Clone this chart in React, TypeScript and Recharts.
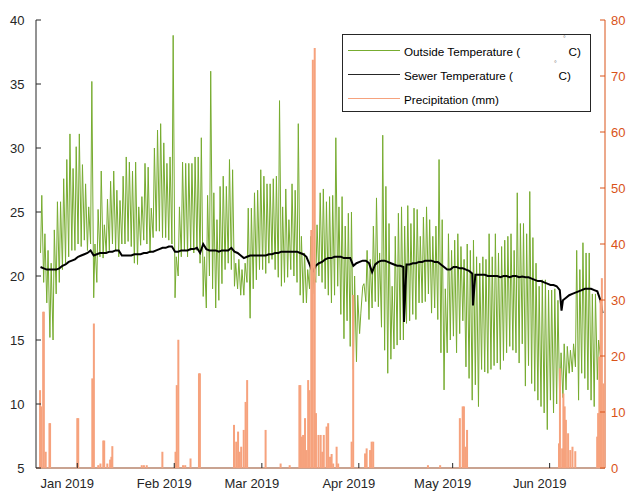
import React from 'react';
import { ComposedChart, Line, Scatter, XAxis, YAxis } from 'recharts';

// Day index: 0 = 1 Jan 2019. Data start 20 Dec 2018 (day -12).
const START_DAY = -12;

// Outside temperature, daily maxima / minima (°C)
const decMax = [26.3, 23.3, 22.0, 21.0, 23.6, 25.8, 25.8, 27.6, 29.1, 31.1, 28.4, 30.1];
const decMin = [21.8, 19.5, 17.9, 15.2, 15.0, 18.6, 19.5, 20.5, 21.0, 21.5, 22.0, 22.0];
const janMax = [31.1, 28.7, 27.2, 25.4, 35.2, 22.5, 25.2, 28.2, 24.0, 26.0, 27.4, 28.2, 26.7, 25.9, 27.8, 29.3, 28.9, 28.2, 28.9, 25.4, 26.2, 28.8, 28.5, 25.3, 30.0, 31.4, 31.9, 30.4, 28.8, 29.3, 38.8];
const janMin = [22.5, 22.3, 22.8, 22.0, 22.5, 18.3, 19.5, 21.5, 21.4, 21.8, 22.0, 22.5, 22.0, 21.5, 22.5, 22.5, 22.7, 22.3, 21.0, 20.9, 22.4, 22.8, 22.5, 21.8, 23.0, 23.5, 23.5, 23.0, 23.0, 22.8, 22.5];
const febMax = [21.5, 25.4, 28.9, 28.8, 28.8, 28.8, 29.3, 29.3, 30.8, 21.5, 26.3, 36.0, 26.5, 24.4, 27.0, 27.8, 27.0, 29.1, 28.3, 21.0, 21.3, 20.5, 21.0, 25.3, 25.3, 26.5, 26.7, 28.3];
const febMin = [18.3, 20.0, 21.5, 22.0, 21.5, 22.0, 21.8, 22.0, 21.0, 18.4, 17.5, 20.0, 19.0, 17.5, 18.1, 19.4, 20.5, 21.0, 20.5, 19.2, 19.0, 18.5, 18.5, 19.5, 16.7, 19.0, 19.7, 20.5];
const marMax = [27.8, 27.2, 27.2, 27.6, 27.8, 33.7, 25.4, 26.8, 24.4, 27.2, 26.7, 31.9, 23.1, 21.8, 20.5, 23.1, 20.2, 24.0, 26.5, 26.8, 25.8, 26.2, 26.3, 30.8, 25.4, 26.2, 23.9, 24.9, 25.0, 20.0, 18.5];
const marMin = [20.5, 20.2, 21.0, 21.3, 20.5, 19.9, 19.2, 19.5, 19.9, 20.5, 20.0, 19.5, 18.5, 17.9, 17.9, 19.0, 18.6, 19.5, 20.0, 19.5, 19.0, 18.5, 17.9, 18.5, 19.2, 17.0, 15.1, 16.5, 14.5, 12.7, 13.3];
const aprMax = [17.1, 19.4, 22.0, 21.3, 23.9, 26.1, 21.8, 31.0, 27.0, 24.1, 19.2, 23.1, 24.9, 25.4, 23.9, 25.5, 24.1, 25.3, 25.2, 23.1, 24.6, 25.4, 24.4, 23.1, 23.9, 29.1, 24.4, 19.0, 23.3, 22.0];
const aprMin = [15.5, 19.2, 18.0, 16.6, 17.5, 18.0, 17.6, 16.0, 14.2, 12.4, 13.5, 14.3, 14.6, 15.0, 15.0, 16.3, 16.5, 17.0, 16.6, 17.9, 17.9, 18.0, 18.6, 17.1, 17.5, 16.6, 14.0, 11.1, 14.0, 15.0];
const mayMax = [22.8, 23.3, 22.3, 21.3, 22.5, 22.0, 22.8, 21.5, 21.0, 21.5, 21.3, 23.3, 21.5, 23.3, 21.8, 22.3, 22.8, 23.1, 23.3, 22.0, 26.5, 24.1, 24.1, 23.3, 26.6, 23.0, 21.0, 19.2, 19.7, 19.7, 18.9];
const mayMin = [15.3, 14.0, 15.5, 16.5, 12.9, 12.0, 10.3, 11.5, 9.8, 12.7, 12.5, 12.4, 12.7, 13.0, 13.2, 12.7, 13.4, 14.0, 14.5, 14.2, 14.0, 13.2, 14.7, 11.4, 13.0, 11.6, 11.0, 10.3, 9.8, 9.3, 8.0];
const junMax = [18.9, 19.0, 18.1, 14.0, 14.7, 14.5, 14.2, 14.7, 22.0, 20.5, 22.6, 21.8, 21.8, 18.6, 18.6, 15.0, 15.5];
const junMin = [10.3, 9.3, 10.0, 9.8, 10.5, 11.1, 12.4, 12.5, 12.9, 10.3, 12.4, 12.0, 11.1, 10.3, 9.8, 11.9, 13.7];

// Sewer temperature, daily (°C)
const decSewer = [20.7, 20.6, 20.5, 20.5, 20.5, 20.5, 20.6, 20.8, 20.9, 21.1, 21.2, 21.3];
const janSewer = [21.5, 21.6, 21.7, 21.8, 22.0, 21.6, 21.7, 21.8, 21.8, 21.8, 21.9, 21.9, 22.0, 22.0, 21.6, 21.6, 21.6, 21.6, 21.7, 21.7, 21.7, 21.8, 21.8, 21.9, 21.9, 22.0, 22.1, 22.2, 22.2, 22.3, 22.3];
const febSewer = [21.9, 21.9, 22.0, 22.0, 22.0, 22.1, 22.1, 22.2, 21.8, 22.5, 22.1, 22.0, 22.0, 22.0, 21.9, 22.0, 22.0, 22.0, 22.2, 21.9, 21.8, 21.6, 21.4, 21.5, 21.6, 21.6, 21.6, 21.6];
const marSewer = [21.6, 21.6, 21.7, 21.7, 21.8, 21.8, 21.9, 21.9, 21.9, 21.9, 21.9, 21.9, 21.8, 21.7, 21.5, 20.9, 20.3, 20.8, 21.0, 21.1, 21.3, 21.4, 21.4, 21.5, 21.5, 21.5, 21.4, 21.4, 21.4, 20.8, 21.0];
const aprSewer = [21.1, 21.2, 21.2, 21.0, 20.3, 20.9, 21.1, 21.2, 21.2, 21.1, 21.0, 20.9, 20.8, 20.8, 20.7, 20.9, 20.9, 21.0, 21.0, 21.1, 21.1, 21.2, 21.2, 21.2, 21.1, 21.1, 20.9, 20.7, 20.5, 20.5];
const maySewer = [20.7, 20.7, 20.6, 20.6, 20.5, 20.4, 20.2, 20.1, 20.1, 20.1, 20.1, 20.0, 20.0, 20.0, 20.0, 19.9, 20.0, 20.0, 19.9, 20.0, 20.0, 19.9, 19.95, 19.9, 19.9, 19.8, 19.7, 19.6, 19.6, 19.5, 19.4];
const junSewer = [19.3, 19.3, 19.2, 18.9, 18.1, 18.3, 18.5, 18.6, 18.7, 18.8, 18.9, 19.0, 19.0, 19.0, 18.9, 18.8, 18.1];
// Short sewer dips (day, °C)
const sewerDipDay = [104.45, 126.5, 154.8, 167.9];
const sewerDipVal = [16.4, 17.7, 17.3, 17.1];

// Precipitation events (day, mm)
const precipDay = [-11.9, -11.6, -10.9, -10.7, -10.1, -8.9, -8.7, 0.0, 0.3, 4.8, 5.3, 6.7, 7.4, 8.3, 8.6, 9.6, 10.5, 10.9, 11.2, 20.6, 21.3, 22.2, 27.2, 31.4, 31.8, 32.3, 33.8, 34.5, 36.2, 38.9, 39.2, 50.1, 50.8, 51.4, 51.9, 52.4, 53.2, 53.8, 54.3, 60.2, 65.0, 67.9, 71.0, 71.3, 71.8, 72.2, 72.8, 73.3, 73.8, 74.2, 74.8, 75.3, 75.9, 76.3, 77.1, 77.8, 78.3, 78.8, 79.7, 80.2, 80.8, 81.3, 81.8, 82.9, 83.4, 87.7, 88.2, 92.0, 92.5, 93.6, 94.1, 94.6, 112.1, 116.0, 122.3, 123.2, 123.6, 124.1, 124.6, 154.0, 154.3, 155.0, 155.4, 155.8, 156.2, 156.9, 157.6, 158.3, 159.2, 166.2, 166.5, 166.9, 167.3, 167.7, 168.2];
const precipMm = [13.9, 11.0, 27.9, 27.9, 2.9, 8.0, 8.0, 8.9, 8.9, 16.0, 25.8, 0.5, 0.8, 4.9, 4.9, 0.8, 1.5, 2.0, 3.9, 0.5, 0.5, 0.5, 2.9, 2.9, 14.8, 22.9, 0.5, 0.5, 1.7, 16.9, 16.9, 7.7, 4.7, 6.5, 2.9, 3.8, 6.8, 11.8, 15.7, 6.8, 0.8, 0.5, 14.8, 14.8, 5.6, 5.9, 8.9, 3.2, 15.7, 13.9, 42.5, 72.9, 75.0, 9.8, 5.9, 5.9, 2.9, 5.9, 7.4, 8.0, 2.0, 2.5, 0.8, 3.8, 0.8, 4.7, 30.9, 2.6, 3.5, 3.2, 4.7, 4.7, 0.5, 0.5, 8.9, 11.0, 11.0, 3.8, 6.8, 4.4, 17.8, 3.5, 13.3, 11.0, 8.6, 6.2, 3.2, 3.8, 3.0, 5.6, 9.8, 19.9, 30.0, 33.9, 15.1];

const monthTicks = [0, 31, 59, 90, 120, 151];
const monthLabels = ['Jan 2019', 'Feb 2019', 'Mar 2019', 'Apr 2019', 'May 2019', 'Jun 2019'];
const leftTicks = [5, 10, 15, 20, 25, 30, 35, 40];
const rightTicks = [0, 10, 20, 30, 40, 50, 60, 70, 80];

const GREEN = '#77AC30';
const ORANGE_AXIS = '#D95319';
const PRECIP = '#F6A27D';
const AXIS = '#262626';
const FONT = '"Liberation Sans", Arial, Helvetica, sans-serif';

const PLOT_LEFT = 36;
const PLOT_RIGHT = 605;
const PLOT_BOTTOM = 468;

const maxAll = [...decMax, ...janMax, ...febMax, ...marMax, ...aprMax, ...mayMax, ...junMax];
const minAll = [...decMin, ...janMin, ...febMin, ...marMin, ...aprMin, ...mayMin, ...junMin];
const sewerAll = [...decSewer, ...janSewer, ...febSewer, ...marSewer, ...aprSewer, ...maySewer, ...junSewer];

type Row = { x: number; outside?: number; sewer?: number };
const rows: Row[] = [];
minAll.forEach((mn, i) => {
  const d = START_DAY + i;
  rows.push({ x: d + 0.25, outside: mn, sewer: sewerAll[i] });
  rows.push({ x: d + 0.65, outside: maxAll[i] });
});
sewerDipDay.forEach((d, i) => rows.push({ x: d, sewer: sewerDipVal[i] }));
rows.sort((a, b) => a.x - b.x);

const precipRows = precipDay.map((d, i) => ({ x: d, p: precipMm[i] }));

const LeftTick = (props: any) => {
  const { y, payload } = props;
  return (
    <g>
      <line x1={PLOT_LEFT} x2={PLOT_LEFT + 5} y1={y} y2={y} stroke={AXIS} strokeWidth={1} />
      <text x={24.5} y={y} textAnchor="end" dominantBaseline="central" fontSize={13} fill={AXIS} fontFamily={FONT}>
        {payload.value}
      </text>
    </g>
  );
};

const RightTick = (props: any) => {
  const { y, payload } = props;
  return (
    <g>
      <line x1={PLOT_RIGHT - 5} x2={PLOT_RIGHT} y1={y} y2={y} stroke={ORANGE_AXIS} strokeWidth={1} />
      <text x={611} y={y} textAnchor="start" dominantBaseline="central" fontSize={13} fill={ORANGE_AXIS} fontFamily={FONT}>
        {payload.value}
      </text>
    </g>
  );
};

const BottomTick = (props: any) => {
  const { x, payload } = props;
  const idx = monthTicks.indexOf(payload.value);
  return (
    <g>
      <line x1={x} x2={x} y1={PLOT_BOTTOM} y2={PLOT_BOTTOM - 5} stroke={AXIS} strokeWidth={1} />
      <text x={x - 10} y={483} textAnchor="middle" dominantBaseline="central" fontSize={13} fill={AXIS} fontFamily={FONT}>
        {monthLabels[idx]}
      </text>
    </g>
  );
};

const PrecipBar = (props: any) => {
  const { cx, cy } = props;
  if (cx == null || cy == null || isNaN(cx) || isNaN(cy)) return <g />;
  return <rect x={cx - 1} y={cy} width={2} height={Math.max(0, PLOT_BOTTOM - cy)} fill={PRECIP} />;
};

const LegendBox = () => (
  <svg
    width={250}
    height={79}
    style={{ position: 'absolute', left: 341.5, top: 33.5, overflow: 'visible' }}
  >
    <rect x={0.5} y={0.5} width={248} height={77} fill="#fff" stroke={AXIS} strokeWidth={1} />
    <line x1={6} x2={58} y1={16.5} y2={16.5} stroke={GREEN} strokeWidth={1} />
    <line x1={6} x2={58} y1={40.5} y2={40.5} stroke={AXIS} strokeWidth={1} />
    <line x1={6} x2={58} y1={64.5} y2={64.5} stroke={PRECIP} strokeWidth={1} />
    <g fontFamily={FONT} fontSize={11.7} fill="#000">
      <text x={62} y={17} dominantBaseline="central">Outside Temperature (</text>
      <text x={221} y={4} fontSize={7} fill="#777" dominantBaseline="central">°</text>
      <text x={226.5} y={17} dominantBaseline="central">C)</text>
      <text x={62} y={41} dominantBaseline="central">Sewer Temperature (</text>
      <text x={212} y={29} fontSize={7} fill="#777" dominantBaseline="central">°</text>
      <text x={216.5} y={41} dominantBaseline="central">C)</text>
      <text x={62} y={65} dominantBaseline="central">Precipitation (mm)</text>
    </g>
  </svg>
);

export default function App() {
  return (
    <div style={{ position: 'absolute', left: 0, top: 0, width: 627, height: 491, background: '#fff', fontFamily: FONT }}>
      <ComposedChart width={627} height={491} data={rows} margin={{ top: 20, right: 0, bottom: 0, left: 0 }}>
        <XAxis
          dataKey="x"
          type="number"
          domain={[-13.2, 168.7]}
          allowDataOverflow
          ticks={monthTicks}
          tick={<BottomTick />}
          tickLine={false}
          axisLine={{ stroke: '#B7846C', strokeWidth: 1.5 }}
          height={23}
          interval={0}
        />
        <YAxis
          yAxisId="left"
          type="number"
          domain={[5, 40]}
          ticks={leftTicks}
          tick={<LeftTick />}
          tickLine={false}
          axisLine={{ stroke: AXIS, strokeWidth: 1 }}
          width={36}
          allowDataOverflow
          interval={0}
        />
        <YAxis
          yAxisId="right"
          orientation="right"
          type="number"
          domain={[0, 80]}
          ticks={rightTicks}
          tick={<RightTick />}
          tickLine={false}
          axisLine={{ stroke: ORANGE_AXIS, strokeWidth: 1 }}
          width={22}
          allowDataOverflow
          interval={0}
        />
        <Line
          yAxisId="left"
          dataKey="outside"
          stroke={GREEN}
          strokeWidth={1}
          dot={false}
          connectNulls
          isAnimationActive={false}
          type="linear"
        />
        <Line
          yAxisId="left"
          dataKey="sewer"
          stroke="#000"
          strokeWidth={2}
          dot={false}
          connectNulls
          isAnimationActive={false}
          type="linear"
        />
        <Scatter
          yAxisId="right"
          data={precipRows}
          dataKey="p"
          shape={<PrecipBar />}
          isAnimationActive={false}
        />
      </ComposedChart>
      <LegendBox />
    </div>
  );
}
